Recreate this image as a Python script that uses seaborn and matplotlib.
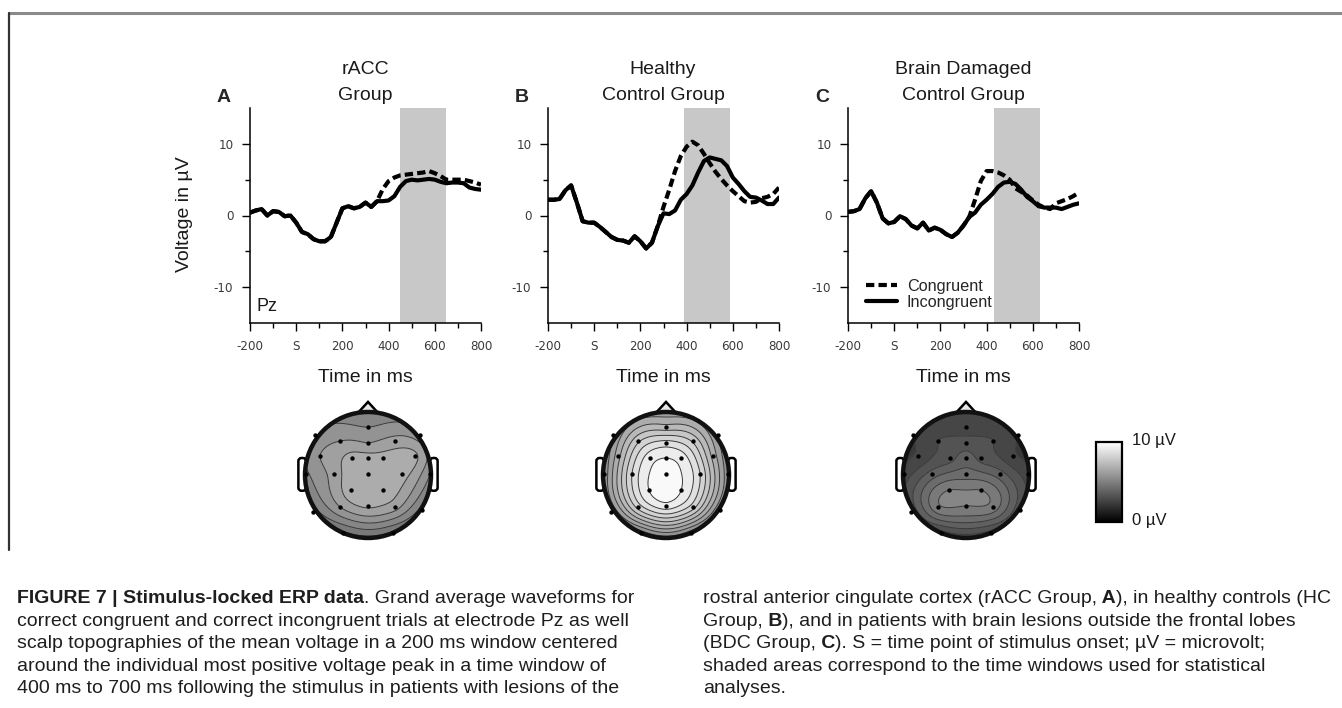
import numpy as np
import pandas as pd
import matplotlib
matplotlib.use("Agg")
import matplotlib.pyplot as plt
import seaborn as sns
from matplotlib.patches import Circle, Polygon, FancyBboxPatch
from matplotlib.lines import Line2D
from matplotlib.ticker import FixedLocator
from matplotlib.cm import ScalarMappable
from matplotlib.colors import Normalize

# ---------------- data ----------------
time_ms = [-200, -175, -150, -125, -100, -75, -50, -25, 0, 25, 50, 75, 100, 125, 150, 175,
           200, 225, 250, 275, 300, 325, 350, 375, 400, 425, 450, 475, 500, 525, 550, 575,
           600, 625, 650, 675, 700, 725, 750, 775, 800]

racc_congruent = [0.4, 0.7, 0.9, 0.0, 0.6, 0.5, -0.1, 0.0, -1.0, -2.3, -2.6, -3.3, -3.6, -3.6, -3.0, -1.0,
                  1.0, 1.3, 1.0, 1.2, 1.8, 1.2, 2.0, 3.7, 4.8, 5.3, 5.6, 5.7, 5.8, 5.9, 6.0, 6.2,
                  5.9, 5.5, 5.0, 5.0, 5.0, 5.0, 4.8, 4.6, 4.3]
racc_incongruent = [0.4, 0.7, 0.9, 0.0, 0.6, 0.5, -0.1, 0.0, -1.0, -2.3, -2.6, -3.3, -3.6, -3.6, -3.0, -1.0,
                    1.0, 1.3, 1.0, 1.2, 1.8, 1.2, 2.0, 2.0, 2.1, 2.7, 4.0, 4.8, 5.0, 4.9, 5.0, 5.1,
                    5.0, 4.7, 4.5, 4.6, 4.6, 4.5, 3.9, 3.7, 3.6]
hc_congruent = [2.2, 2.2, 2.3, 3.5, 4.2, 1.8, -0.8, -1.0, -1.0, -1.6, -2.3, -3.0, -3.4, -3.5, -3.8, -2.9,
                -3.6, -4.6, -3.8, -1.5, 1.2, 3.6, 6.2, 8.3, 9.6, 10.3, 9.8, 8.6, 7.3, 6.1, 5.1, 4.2,
                3.4, 2.7, 2.0, 1.8, 1.9, 2.4, 2.6, 3.0, 3.9]
hc_incongruent = [2.2, 2.2, 2.3, 3.5, 4.2, 1.8, -0.8, -1.0, -1.0, -1.6, -2.3, -3.0, -3.4, -3.5, -3.8, -2.9,
                  -3.6, -4.6, -3.8, -1.5, 0.3, 0.2, 0.7, 2.2, 3.0, 4.2, 6.0, 7.6, 8.1, 7.9, 7.7, 6.9,
                  5.3, 4.4, 3.4, 2.6, 2.5, 2.1, 1.6, 1.6, 2.5]
bdc_congruent = [0.5, 0.6, 0.9, 2.4, 3.4, 1.8, -0.4, -1.1, -0.9, -0.1, -0.5, -1.4, -1.8, -1.0, -2.1, -1.7,
                 -2.0, -2.6, -3.0, -2.4, -1.4, -0.2, 2.2, 4.8, 6.2, 6.2, 6.0, 5.6, 5.0, 3.8, 3.3, 2.8,
                 2.1, 1.5, 1.1, 0.9, 1.7, 2.0, 2.3, 2.7, 3.2]
bdc_incongruent = [0.5, 0.6, 0.9, 2.4, 3.4, 1.8, -0.4, -1.1, -0.9, -0.1, -0.5, -1.4, -1.8, -1.0, -2.1, -1.7,
                   -2.0, -2.6, -3.0, -2.4, -1.4, -0.2, 0.4, 1.5, 2.2, 3.0, 4.0, 4.6, 4.7, 4.4, 3.6, 2.6,
                   2.0, 1.3, 1.1, 1.1, 1.1, 0.9, 1.2, 1.5, 1.7]

group_title_line1 = ["rACC", "Healthy", "Brain Damaged"]
group_title_line2 = ["Group", "Control Group", "Control Group"]
panel_letters = ["A", "B", "C"]
window_start = [450, 390, 430]
window_end = [650, 590, 630]
condition_labels = ["Congruent", "Incongruent"]

x_ticks = [-200, 0, 200, 400, 600, 800]
x_tick_labels = ["-200", "S", "200", "400", "600", "800"]
x_minor_ticks = [-100, 100, 300, 500, 700]
y_ticks = [-10, 0, 10]
y_tick_labels = ["-10", "0", "10"]
y_minor_ticks = [-5, 5]

# electrode layout (unit head radius) and mean voltages per group (µV)
electrode_x = [0.0, -0.44, 0.0, 0.43, -0.76, -0.25, 0.0, 0.24, 0.75, -0.54, 0.0, 0.54,
               -0.27, 0.24, -0.44, 0.0, 0.43, -0.84, 0.83, -0.99, 0.99, -0.87, 0.86, -0.40, 0.40]
electrode_y = [0.76, 0.54, 0.51, 0.54, 0.30, 0.27, 0.27, 0.27, 0.30, 0.02, 0.02, 0.02,
               -0.24, -0.24, -0.51, -0.49, -0.51, 0.63, 0.63, 0.02, 0.02, -0.59, -0.56, -0.92, -0.92]
topo_racc = [5.5, 6.0, 6.0, 6.2, 6.0, 6.7, 6.7, 6.7, 6.6, 6.2, 6.9, 6.7,
             6.8, 6.8, 6.0, 6.6, 6.2, 5.6, 5.7, 5.4, 5.5, 4.8, 4.8, 4.4, 4.4]
topo_hc = [7.2, 7.9, 8.7, 7.9, 6.8, 9.3, 9.5, 9.3, 6.8, 8.5, 9.6, 8.5,
           9.5, 9.5, 8.2, 9.3, 8.2, 5.9, 5.9, 5.6, 5.6, 5.4, 5.4, 5.2, 5.2]
topo_bdc = [2.8, 3.0, 3.2, 3.0, 2.6, 3.3, 3.8, 3.3, 2.6, 3.7, 4.2, 3.7,
            5.0, 5.0, 4.9, 5.0, 4.8, 2.5, 2.5, 2.7, 2.7, 3.1, 3.1, 2.8, 2.8]

# ---------------- style ----------------
sns.set_style("white")
plt.rcParams['font.family'] = ['Liberation Sans', 'DejaVu Sans']

W, H = 1342, 708
fig = plt.figure(figsize=(W / 100, H / 100), dpi=100)
fig.patch.set_facecolor("white")


def fx(x):
    return x / W


def fy(y):
    return 1 - y / H


df = pd.DataFrame({
    "time": time_ms * 6,
    "voltage": racc_congruent + racc_incongruent + hc_congruent + hc_incongruent + bdc_congruent + bdc_incongruent,
    "group": ["rACC"] * 82 + ["HC"] * 82 + ["BDC"] * 82,
    "condition": ([condition_labels[0]] * 41 + [condition_labels[1]] * 41) * 3,
})
groups = ["rACC", "HC", "BDC"]

axes_left = [250, 548, 848]
axes_width = 231
axes_top, axes_bottom = 108, 323
topo_cx = [368, 666, 966]
topo_cy = 475
R = 63
LW = 3.0

axes = []
for i, g in enumerate(groups):
    ax = fig.add_axes([fx(axes_left[i]), fy(axes_bottom), axes_width / W, (axes_bottom - axes_top) / H])
    axes.append(ax)
    sub = df[df.group == g]
    ax.axvspan(window_start[i], window_end[i], color="#c8c8c8", lw=0, zorder=0)
    sns.lineplot(data=sub[sub.condition == "Incongruent"], x="time", y="voltage", ax=ax,
                 color="black", linewidth=LW, zorder=3, legend=False)
    sns.lineplot(data=sub[sub.condition == "Congruent"], x="time", y="voltage", ax=ax,
                 color="black", linewidth=LW, zorder=4, legend=False)
    ax.lines[-1].set_dashes([2.0, 1.0])
    ax.set_xlim(-200, 800)
    ax.set_ylim(-15, 15)
    ax.set_xlabel("")
    ax.set_ylabel("")
    ax.xaxis.set_major_locator(FixedLocator(x_ticks))
    ax.set_xticklabels(x_tick_labels)
    ax.xaxis.set_minor_locator(FixedLocator(x_minor_ticks))
    ax.yaxis.set_major_locator(FixedLocator(y_ticks))
    ax.set_yticklabels(y_tick_labels)
    ax.yaxis.set_minor_locator(FixedLocator(y_minor_ticks))
    for s in ["top", "right"]:
        ax.spines[s].set_visible(False)
    for s in ["left", "bottom"]:
        ax.spines[s].set_color("black")
        ax.spines[s].set_linewidth(1.1)
    ax.tick_params(which="major", direction="out", length=6, width=1.0, color="black",
                   labelsize=8.6, labelcolor="#3a3a3a", pad=6, bottom=True, left=True)
    ax.tick_params(which="minor", direction="out", length=3.5, width=1.0, color="black",
                   bottom=True, left=True)
    for lab in ax.get_xticklabels() + ax.get_yticklabels():
        lab.set_family("DejaVu Sans")
    ax.patch.set_alpha(0)

    cx = axes_left[i] + 115
    fig.text(fx(cx), fy(70), group_title_line1[i], ha="center", va="center", fontsize=14, color="#1a1a1a")
    fig.text(fx(cx), fy(95), group_title_line2[i], ha="center", va="center", fontsize=14, color="#1a1a1a")
    fig.text(fx(axes_left[i] - 26), fy(97), panel_letters[i], ha="center", va="center",
             fontsize=14, fontweight="bold")
    fig.text(fx(cx), fy(382), "Time in ms", ha="center", va="baseline", fontsize=14, color="#1a1a1a")

fig.text(fx(185), fy(214), "Voltage in µV", rotation=90, ha="center", va="center", fontsize=14,
         color="#1a1a1a")
axes[0].text(-170, -12.7, "Pz", ha="left", va="center", fontsize=13, color="#1a1a1a")

leg_handles = [Line2D([], [], color="black", lw=LW, dashes=[2.0, 1.0]),
               Line2D([], [], color="black", lw=LW)]
axes[2].legend(leg_handles, condition_labels, loc="upper left", frameon=False,
               bbox_to_anchor=((866 - 848) / axes_width, (323 - 279) / 215),
               borderpad=0, borderaxespad=0, fontsize=11.7, handlelength=1.9,
               handletextpad=0.6, labelspacing=0.05)


# ---------------- topographies ----------------
def tps_surface(px, py, vals, gx, gy):
    P = np.column_stack([px, py])
    n = len(px)
    d = np.sqrt(((P[:, None, :] - P[None, :, :]) ** 2).sum(-1))
    K = np.where(d > 0, d ** 2 * np.log(np.maximum(d, 1e-12)), 0.0)
    Q = np.column_stack([np.ones(n), px, py])
    A = np.zeros((n + 3, n + 3))
    A[:n, :n] = K
    A[:n, n:] = Q
    A[n:, :n] = Q.T
    b = np.concatenate([vals, np.zeros(3)])
    sol = np.linalg.solve(A, b)
    w, a = sol[:n], sol[n:]
    G = np.column_stack([gx.ravel(), gy.ravel()])
    dg = np.sqrt(((G[:, None, :] - P[None, :, :]) ** 2).sum(-1))
    Kg = np.where(dg > 0, dg ** 2 * np.log(np.maximum(dg, 1e-12)), 0.0)
    out = Kg @ w + a[0] + a[1] * G[:, 0] + a[2] * G[:, 1]
    return out.reshape(gx.shape)


ex = np.array(electrode_x)
ey = np.array(electrode_y)
levels = np.arange(0, 10.01, 0.5)
for i, vals in enumerate([topo_racc, topo_hc, topo_bdc]):
    cx = topo_cx[i]
    tax = fig.add_axes([fx(cx - 1.3 * R), fy(topo_cy + 1.3 * R), 2.6 * R / W, 2.6 * R / H])
    tax.set_xlim(-1.3, 1.3)
    tax.set_ylim(-1.3, 1.3)
    tax.axis("off")
    g = np.linspace(-1.02, 1.02, 181)
    gx, gy = np.meshgrid(g, g)
    z = np.clip(tps_surface(ex, ey, np.array(vals, float), gx, gy), 0.05, 9.95)
    for s in (-1, 1):
        ear = FancyBboxPatch((s * 1.045 - 0.06, -0.25), 0.12, 0.52,
                             boxstyle="round,pad=0,rounding_size=0.05",
                             fc="white", ec="black", lw=1.8, zorder=1)
        tax.add_patch(ear)
    nose = Polygon([[-0.17, 0.975], [0.0, 1.16], [0.17, 0.975]], closed=True,
                   fc="#e6e6e6", ec="black", lw=1.8, zorder=1)
    tax.add_patch(nose)
    tax.add_patch(Circle((0, 0), 1.0, fc="white", ec="none", zorder=1.5))
    cf = tax.contourf(gx, gy, z, levels=levels, cmap="gray", vmin=0, vmax=10, zorder=2)
    cl = tax.contour(gx, gy, z, levels=levels, colors="#3a3a3a", linewidths=0.7, zorder=3)
    clip = Circle((0, 0), 1.0, transform=tax.transData)
    cf.set_clip_path(clip)
    cl.set_clip_path(clip)
    tax.add_patch(Circle((0, 0), 1.0, fc="none", ec="#111111", lw=3.2, zorder=5))
    tax.scatter(ex, ey, s=10, c="black", zorder=6, linewidths=0)

# colour bar
cax = fig.add_axes([fx(1096), fy(522), 26 / W, 80 / H])
cb = fig.colorbar(ScalarMappable(Normalize(0, 10), "gray"), cax=cax)
cb.set_ticks([])
cb.outline.set_linewidth(1.6)
cb.outline.set_edgecolor("black")
fig.text(fx(1132), fy(440), "10 µV", ha="left", va="center", fontsize=12, color="#1a1a1a")
fig.text(fx(1132), fy(520), "0 µV", ha="left", va="center", fontsize=12, color="#1a1a1a")

# frame lines
fig.add_artist(Line2D([fx(9), 1.0], [fy(13), fy(13)], transform=fig.transFigure,
                      color="#8a8a8a", lw=2.2))
fig.add_artist(Line2D([fx(9), fx(9)], [fy(13), fy(550)], transform=fig.transFigure,
                      color="#333333", lw=1.6))

# ---------------- caption ----------------
cap_size = 14.0
left_lines = [
    [("FIGURE 7 | Stimulus-locked ERP data", "bold"), (". Grand average waveforms for", "normal")],
    [("correct congruent and correct incongruent trials at electrode Pz as well", "normal")],
    [("scalp topographies of the mean voltage in a 200 ms window centered", "normal")],
    [("around the individual most positive voltage peak in a time window of", "normal")],
    [("400 ms to 700 ms following the stimulus in patients with lesions of the", "normal")],
]
right_lines = [
    [("rostral anterior cingulate cortex (rACC Group,", "normal"), (" A", "bold"),
     ("), in healthy controls (HC", "normal")],
    [("Group,", "normal"), (" B", "bold"),
     ("), and in patients with brain lesions outside the frontal lobes", "normal")],
    [("(BDC Group,", "normal"), (" C", "bold"),
     ("). S = time point of stimulus onset; µV = microvolt;", "normal")],
    [("shaded areas correspond to the time windows used for statistical", "normal")],
    [("analyses.", "normal")],
]
baselines = [603, 626, 648, 671, 693]
renderer = fig.canvas.get_renderer()
for x0, lines in [(17, left_lines), (703, right_lines)]:
    for yb, segs in zip(baselines, lines):
        x = x0
        for txt, wt in segs:
            t = fig.text(fx(x), fy(yb), txt, ha="left", va="baseline", fontsize=cap_size,
                         fontweight=wt, color="#1e1e1e")
            bb = t.get_window_extent(renderer=renderer)
            x += bb.width

fig.savefig("out.png", dpi=100, facecolor="white")
